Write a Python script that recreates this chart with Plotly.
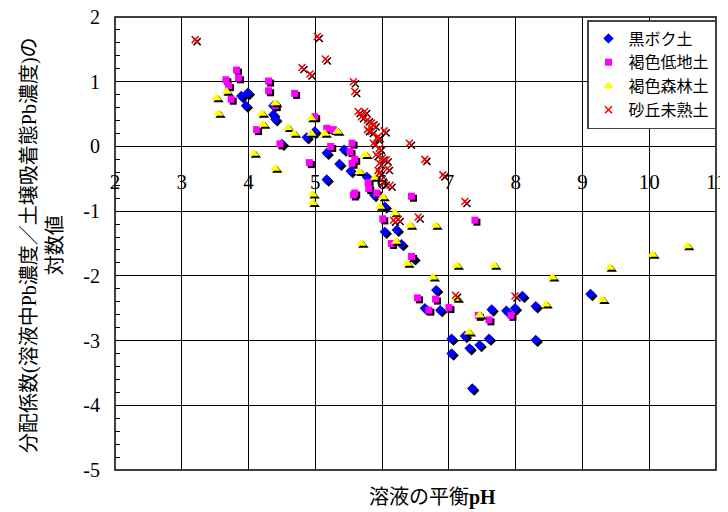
import plotly.graph_objects as go

# ---- data (pH, log distribution coefficient) ----
kuroboku_x = [3.89, 3.99, 3.96, 4.37, 4.37, 4.40, 4.50, 4.99, 4.87, 5.17, 5.36, 5.17, 5.43, 5.53,
              5.77, 5.88, 6.04, 6.04, 6.22, 6.29, 6.47, 6.81, 6.64, 6.87, 7.04, 7.04, 7.24, 7.31,
              7.46, 7.60, 7.64, 7.86, 7.99, 8.10, 8.30, 8.30, 7.35, 9.12]
kuroboku_y = [0.78, 0.83, 0.63, 0.63, 0.49, 0.42, 0.04, 0.23, 0.14, -0.10, -0.27, -0.51, -0.05, -0.38,
              -0.47, -0.75, -0.93, -1.32, -1.29, -1.51, -1.73, -2.22, -2.50, -2.53, -2.97, -3.20, -2.93, -3.12,
              -3.07, -2.97, -2.52, -2.54, -2.50, -2.31, -2.47, -2.99, -3.74, -2.28]

teichi_x = [3.82, 3.85, 3.66, 3.70, 3.74, 4.30, 4.30, 4.69, 4.40, 4.12, 4.47, 4.99, 5.17, 5.27,
            5.23, 4.91, 5.55, 5.52, 5.59, 5.55, 5.79, 5.80, 5.92, 5.59, 5.57, 6.44, 6.01, 6.14,
            6.44, 7.39, 6.53, 6.80, 6.70, 7.00, 7.44, 7.60, 7.93]
teichi_y = [1.18, 1.06, 1.03, 0.94, 0.73, 1.01, 0.86, 0.82, 0.63, 0.26, 0.04, 0.46, 0.28, 0.26,
            0.00, -0.25, 0.05, -0.08, -0.20, -0.26, -0.56, -0.65, -0.72, -0.72, -0.75, -0.77, -1.12, -1.50,
            -1.70, -1.14, -2.34, -2.36, -2.53, -2.49, -2.61, -2.68, -2.61]

shinrin_x = [3.52, 3.55, 3.67, 4.20, 4.22, 4.40, 4.59, 4.68, 4.94, 4.94, 5.14, 5.33, 4.08, 4.40,
             4.96, 4.96, 5.75, 5.66, 5.89, 6.01, 5.97, 6.19, 5.69, 6.21, 6.42, 6.80, 6.38, 7.12,
             7.68, 6.76, 7.12, 7.46, 7.30, 8.55, 9.41, 8.45, 9.30, 10.05, 10.57]
shinrin_y = [0.75, 0.51, 0.85, 0.51, 0.34, 0.67, 0.29, 0.20, 0.44, 0.20, 0.20, 0.23, -0.11, -0.34,
             -0.74, -0.87, -0.13, -0.39, -0.48, -0.78, -0.93, -1.03, -1.50, -1.47, -1.22, -1.22, -1.81, -1.84,
             -1.84, -2.02, -2.35, -2.61, -2.87, -2.02, -1.87, -2.44, -2.37, -1.67, -1.54]

sakyu_x = [3.20, 5.03, 5.15, 4.80, 4.92, 5.57, 5.59, 5.64, 5.74, 5.69, 5.78, 5.88, 5.78, 5.84,
           6.03, 5.92, 5.87, 5.96, 5.91, 6.00, 6.06, 5.96, 6.08, 5.96, 6.03, 6.12, 6.41, 6.64,
           6.91, 7.24, 6.17, 6.24, 6.54, 7.10, 7.99, 5.84, 5.94, 5.94, 5.99]
sakyu_y = [1.65, 1.70, 1.35, 1.22, 1.12, 1.00, 0.85, 0.54, 0.54, 0.46, 0.41, 0.33, 0.26, 0.23,
           0.24, 0.13, 0.05, -0.03, -0.13, -0.18, -0.21, -0.26, -0.34, -0.41, -0.57, -0.60, 0.05, -0.20,
           -0.44, -0.85, -1.14, -1.13, -1.09, -2.30, -2.31, 0.36, 0.15, -0.37, -0.52]

series_names = ["黒ボク土", "褐色低地土", "褐色森林土", "砂丘未熟土"]
x_ticks = [2, 3, 4, 5, 6, 7, 8, 9, 10, 11]
y_ticks = [2, 1, 0, -1, -2, -3, -4, -5]

# ---- layout geometry (page pixels; the page body adds an 8px offset) ----
OFF = 8
W, H = 728 - OFF, 512 - OFF
PL, PR, PT, PB = 115, 716, 17, 470          # plot-area edges on the page
ML, MT = PL - OFF, PT - OFF
MR, MB = W - (PR - OFF), H - (PB - OFF)
XR = [2, 11]
YR = [-5, 2]
pw = W - ML - MR
ph = H - MT - MB


def px_x(page_x):
    return (page_x - PL) / pw


def px_y(page_y):
    return (PB - page_y) / ph


# shadow offset: 2 px right, 2 px down, in data units
sdx = 2 * (XR[1] - XR[0]) / pw
sdy = 2 * (YR[1] - YR[0]) / ph

styles = [
    dict(symbol="diamond", size=8, color="#0000FF"),
    dict(symbol="square", size=7, color="#FF00FF"),
    dict(symbol="triangle-up", size=9, color="#FFFF00"),
    dict(symbol="x-thin", size=7, color="#FF0000"),
]
data = [(kuroboku_x, kuroboku_y), (teichi_x, teichi_y), (shinrin_x, shinrin_y), (sakyu_x, sakyu_y)]

fig = go.Figure()
for name, (xs, ys), st in zip(series_names, data, styles):
    sx = [v + sdx for v in xs]
    sy = [v - sdy for v in ys]
    if st["symbol"] == "x-thin":
        shadow_marker = dict(symbol="x-thin", size=st["size"], line=dict(color="black", width=1.5))
        main_marker = dict(symbol="x-thin", size=st["size"], line=dict(color=st["color"], width=1.5))
    else:
        shadow_marker = dict(symbol=st["symbol"], size=st["size"], color="black", line=dict(width=0))
        main_marker = dict(symbol=st["symbol"], size=st["size"], color=st["color"], line=dict(width=0))
    fig.add_trace(go.Scatter(x=sx, y=sy, mode="markers", marker=shadow_marker,
                             showlegend=False, hoverinfo="skip"))
    fig.add_trace(go.Scatter(x=xs, y=ys, mode="markers", marker=main_marker, name=name))

zero_pos = (0 - YR[0]) / (YR[1] - YR[0])

fig.update_layout(
    width=W, height=H,
    margin=dict(l=ML, r=MR, t=MT, b=MB, pad=0, autoexpand=False),
    paper_bgcolor="white", plot_bgcolor="white",
    font=dict(family="Liberation Serif, Noto Sans CJK JP", color="black"),
    xaxis=dict(range=XR, tickvals=x_ticks, ticktext=[str(v) for v in x_ticks],
               showgrid=True, gridcolor="black", gridwidth=1, zeroline=False,
               showline=False, ticks="", anchor="free", position=zero_pos,
               ticklabelstandoff=21, automargin=False, ticklabeloverflow="allow",
               tickfont=dict(family="Liberation Serif", size=21, color="black")),
    yaxis=dict(range=YR, tickvals=y_ticks, ticktext=[str(v) for v in y_ticks],
               showgrid=True, gridcolor="black", gridwidth=1, zeroline=False,
               showline=False, ticks="inside", ticklen=5, tickwidth=1, tickcolor="black",
               automargin=False, ticklabeloverflow="allow", ticklabelstandoff=14,
               minor=dict(dtick=0.2, ticks="inside", ticklen=5, tickcolor="black", showgrid=False),
               tickfont=dict(family="Liberation Serif", size=20, color="black")),
    legend=dict(x=px_x(587), y=px_y(20), xanchor="left", yanchor="top",
                bgcolor="white", bordercolor="#444444", borderwidth=1.5,
                font=dict(family="Noto Sans CJK JP", size=16, color="black"),
                itemsizing="trace", itemwidth=30, tracegroupgap=0),
    showlegend=True,
    shapes=[dict(type="rect", xref="paper", yref="paper", x0=0, x1=1, y0=0, y1=1,
                 line=dict(color="black", width=1.5), layer="above")],
    annotations=[
        dict(text="溶液の平衡<b>pH</b>", xref="paper", yref="paper",
             x=px_x(432), y=px_y(497), xanchor="center", yanchor="middle",
             showarrow=False, font=dict(family="Liberation Serif, Noto Sans CJK JP", size=20, color="black")),
        dict(text="分配係数(溶液中Pb濃度／土壌吸着態Pb濃度)の<br>対数値", xref="paper", yref="paper",
             x=px_x(42), y=px_y(245), xanchor="center", yanchor="middle", textangle=-90,
             showarrow=False, align="center",
             font=dict(family="Liberation Serif, Noto Sans CJK JP", size=20, color="black")),
    ],
)

fig.write_html("out.html")
